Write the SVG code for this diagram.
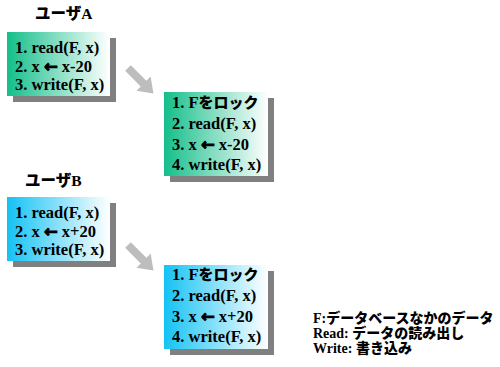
<svg xmlns="http://www.w3.org/2000/svg" width="500" height="367" viewBox="0 0 500 367">
<defs>
<linearGradient id="gA" x1="0" y1="0" x2="1" y2="0">
<stop offset="0" stop-color="#14BE8A"/>
<stop offset="1" stop-color="#FFFFFF"/>
</linearGradient>
<linearGradient id="gB" x1="0" y1="0" x2="1" y2="0">
<stop offset="0" stop-color="#14C2F4"/>
<stop offset="1" stop-color="#FFFFFF"/>
</linearGradient>
<style>
text{font-family:"Liberation Serif","Noto Sans CJK JP",serif;font-weight:bold;font-size:16.5px;fill:#000}
.lg{font-size:14px}
.jp{font-family:"Noto Sans CJK JP",sans-serif;font-weight:900}
.arr{font-family:"DejaVu Sans",sans-serif;font-weight:bold;stroke:#000;stroke-width:0.9}
.sh{fill:#808080}
.arrow{fill:#BDBDBD}
</style>
</defs>
<g id="titleA"><text x="35" y="19" style="font-size:15.5px"><tspan class="jp">ユーザ</tspan>A</text></g>
<g id="boxA1">
<rect class="sh" x="13" y="38" width="103" height="64"/>
<rect x="7" y="32" width="103" height="64" fill="url(#gA)"/>
<text x="15" y="53">1. read(F, x)</text>
<text x="15" y="71.5">2. x <tspan class="arr">←</tspan> x-20</text>
<text x="15" y="90">3. write(F, x)</text>
</g>
<g id="boxA2">
<rect class="sh" x="170" y="98" width="104" height="84"/>
<rect x="164" y="92" width="104" height="84" fill="url(#gA)"/>
<text x="172" y="108">1. F<tspan class="jp" style="font-size:15px">をロック</tspan></text>
<text x="172" y="129">2. read(F, x)</text>
<text x="172" y="149.5">3. x <tspan class="arr">←</tspan> x-20</text>
<text x="172" y="170">4. write(F, x)</text>
</g>
<g id="titleB"><text x="25" y="186" style="font-size:15.5px"><tspan class="jp">ユーザ</tspan>B</text></g>
<g id="boxB1">
<rect class="sh" x="13" y="203" width="103" height="64"/>
<rect x="7" y="197" width="103" height="64" fill="url(#gB)"/>
<text x="15" y="218">1. read(F, x)</text>
<text x="15" y="236.5">2. x <tspan class="arr">←</tspan> x+20</text>
<text x="15" y="255">3. write(F, x)</text>
</g>
<g id="boxB2">
<rect class="sh" x="170" y="271" width="104" height="84"/>
<rect x="164" y="265" width="104" height="84" fill="url(#gB)"/>
<text x="172" y="280">1. F<tspan class="jp" style="font-size:15px">をロック</tspan></text>
<text x="172" y="301">2. read(F, x)</text>
<text x="172" y="321.5">3. x <tspan class="arr">←</tspan> x+20</text>
<text x="172" y="342">4. write(F, x)</text>
</g>
<g id="connectors">
<polygon class="arrow" transform="translate(128,68) rotate(45)" points="0,-4 22,-4 22,-10 36,0 22,10 22,4 0,4"/>
<polygon class="arrow" transform="translate(128,245) rotate(45)" points="0,-4 22,-4 22,-10 36,0 22,10 22,4 0,4"/>
</g>
<g id="legend">
<text class="lg" x="313" y="323">F:<tspan class="jp">データベースなかのデータ</tspan></text>
<text class="lg" x="313" y="338">Read: <tspan class="jp">データの読み出し</tspan></text>
<text class="lg" x="313" y="353">Write: <tspan class="jp">書き込み</tspan></text>
</g>
</svg>
